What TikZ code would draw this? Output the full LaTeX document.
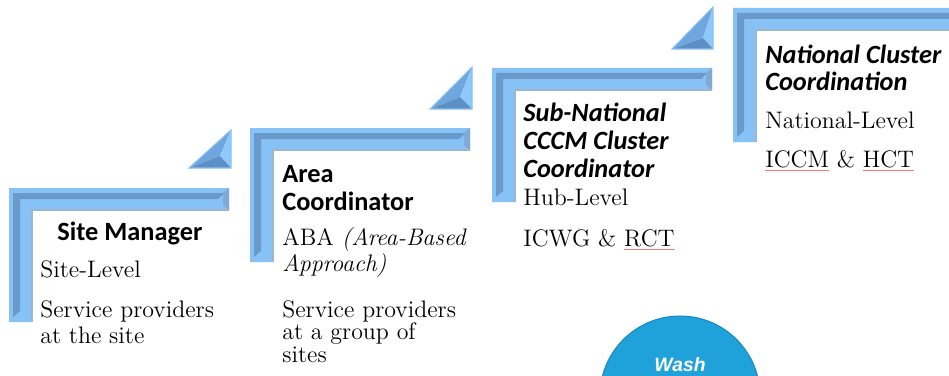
\documentclass[tikz,border=0pt]{standalone}
\usepackage{fontspec}
\newfontfamily\headfont{Carlito}
\newfontfamily\washfont{Liberation Sans}
\definecolor{bevellight}{HTML}{86C2F5}
\definecolor{beveldark}{HTML}{6A9ACB}
\definecolor{beveledge}{HTML}{9DB6CF}
\definecolor{bevelend}{HTML}{7FA9D6}
\definecolor{facetmid}{HTML}{6FA6DE}
\definecolor{facetlight}{HTML}{8DC9FA}
\definecolor{facetdark}{HTML}{5B8FC6}
\definecolor{washblue}{HTML}{1FA2DA}
\newcommand{\squig}[1]{{\color{red!55}\underline{\color{black}#1}}}
\tikzset{
  head/.style={font=\headfont\bfseries\fontsize{15}{15.9}\selectfont, anchor=base west, inner sep=0pt, align=left},
  ihead/.style={head, font=\headfont\bfseries\itshape\fontsize{15}{15.9}\selectfont},
  item/.style={font=\fontsize{13.6}{12.8}\selectfont, anchor=base west, inner sep=0pt, align=left},
}
\begin{document}
\begin{tikzpicture}[x=0.02cm, y=-0.02cm]
\useasboundingbox (0,0) rectangle (949,375);
\clip (0,0) rectangle (949,375);

% steps
\foreach \bx/\by/\bw in {9/188/220, 250/128/220, 492/68/220, 733/8/240} {
  \fill[bevellight] (\bx,\by) -- (\bx+\bw,\by) -- (\bx+\bw,\by+22) -- (\bx+23,\by+22)
    -- (\bx+23,\by+134) -- (\bx,\by+134) -- cycle;
  \fill[beveldark] (\bx+4,\by+5) -- (\bx+\bw-5,\by+5) -- (\bx+\bw-11,\by+11) -- (\bx+11,\by+11)
    -- (\bx+11,\by+123) -- (\bx+4,\by+129) -- cycle;
  \fill[bevelend] (\bx+\bw-6,\by+5) -- (\bx+\bw,\by) -- (\bx+\bw,\by+22) -- (\bx+\bw-6,\by+17) -- cycle;
  \draw[beveledge, line width=0.6pt] (\bx+\bw,\by+22) -- (\bx+23,\by+22) -- (\bx+23,\by+134);
}

% arrow heads
\foreach \tl/\tt/\tr/\tb/\ix/\iy in {189/130/231/168/220/156, 430/67/472/109/460/97, 672/7/713/49/703/38} {
  \fill[facetmid] (\tl,\tb) -- (\tr,\tt) -- (\ix,\iy) -- cycle;
  \fill[facetlight] (\tr,\tt) -- (\tr,\tb) -- (\ix,\iy) -- cycle;
  \fill[facetdark] (\tl,\tb) -- (\tr,\tb) -- (\ix,\iy) -- cycle;
  \draw[bevellight, line width=0.6pt] (\tl,\tb) -- (\tr,\tt) -- (\tr,\tb) -- cycle;
}

% site level
\node (sitehead) [head] at (57,240) {Site Manager};
\node (sitelevel) [item] at (40,277) {Site-Level};
\node (siteserv) [item, font=\fontsize{13.6}{14.7}\selectfont] at (40,343) {Service providers\\at the site};

% area level
\node (areahead) [head] at (282,210) {Area\\Coordinator};
\node (arealevel) [item, font=\fontsize{13.6}{12.5}\selectfont] at (282,271) {ABA {\itshape (Area-Based}\\{\itshape Approach)}};
\node (areaserv) [item] at (282,362) {Service providers\\at a group of\\sites};

% hub level
\node (hubhead) [ihead] at (523,177) {Sub-National\\CCCM Cluster\\Coordinator};
\node (hublevel) [item] at (523,205) {Hub-Level};
\node (hubgroups) [item] at (523,246) {ICWG \& \squig{RCT}};

% national level
\node (nathead) [ihead] at (765,91) {National Cluster\\Coordination};
\node (natlevel) [item] at (765,128) {National-Level};
\node (natgroups) [item] at (765,167) {\squig{ICCM} \& \squig{HCT}};

% cluster ball
\node (wash) [circle, fill=washblue, draw=washblue!85!black, line width=0.6pt, minimum size=3.2cm] at (680,396) {};
\node (washlbl) [font=\washfont\bfseries\itshape\fontsize{11}{12}\selectfont, text=white, anchor=base, inner sep=0pt] at (680,371) {Wash};
\end{tikzpicture}
\end{document}
